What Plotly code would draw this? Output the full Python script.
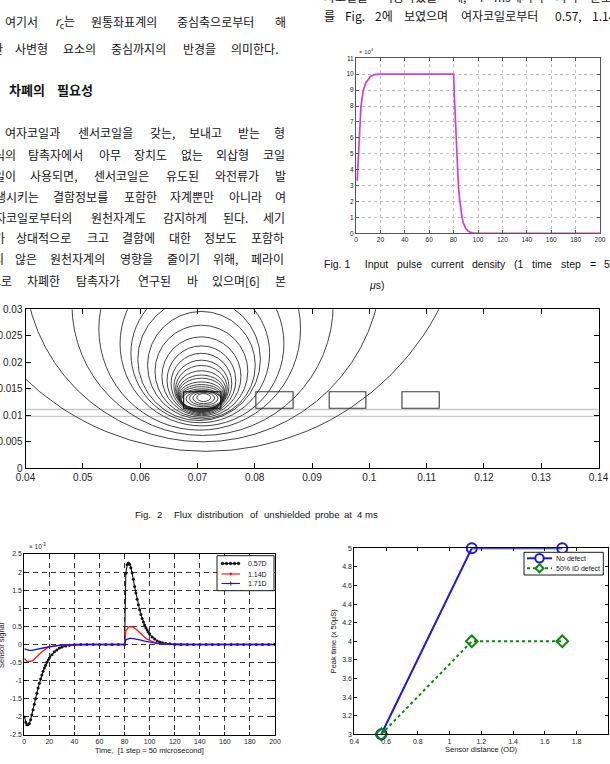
import plotly.graph_objects as go

W, H = 610, 764


def fx(x):
    return x / W


def fy(y):
    return 1 - y / H


# ---------------- Fig. 1 : input pulse current density (x 1e4) ----------------
pulse_t = [1, 2, 3, 4, 5, 6, 8, 10, 12, 15, 20, 40, 60, 80, 80.5, 81, 82, 83, 84, 85,
           86, 87, 88, 90, 92, 95, 100, 120, 140, 160, 180, 200]
pulse_j = [3.3, 5.0, 6.6, 7.9, 8.5, 9.0, 9.45, 9.7, 9.87, 9.97, 10, 10, 10, 10, 8.8, 8.0,
           6.0, 4.2, 2.9, 2.1, 1.4, 0.95, 0.65, 0.3, 0.12, 0.03, 0, 0, 0, 0, 0, 0]
f1_xticks = [0, 20, 40, 60, 80, 100, 120, 140, 160, 180, 200]
f1_yticks = [0, 1, 2, 3, 4, 5, 6, 7, 8, 9, 10, 11]

# ---------------- Fig. 2 : flux contour lines (extent of each line, outer ones run past the top) ----------------
ring_left = [0.0258, 0.0398, 0.0481, 0.0528, 0.0565, 0.0584, 0.0596,
             0.0613, 0.0626, 0.0638, 0.0647, 0.0654, 0.0659, 0.0662, 0.0664, 0.0666, 0.0667, 0.0668, 0.0669, 0.0670,
             0.0671, 0.0672,
             0.0680, 0.0686, 0.0692, 0.0699]
ring_right = [0.1172, 0.1022, 0.0937, 0.0880, 0.0851, 0.0826, 0.0810,
              0.0801, 0.0788, 0.0776, 0.0767, 0.0760, 0.0755, 0.0752, 0.0750, 0.0748, 0.0747, 0.0746, 0.0745, 0.0744,
              0.0743, 0.0742,
              0.0742, 0.0736, 0.0730, 0.0723]
ring_bottom = [0.0032, 0.0050, 0.0062, 0.0072, 0.0080, 0.0086, 0.0090,
               0.0093, 0.0096, 0.0099, 0.0101, 0.0103, 0.0105, 0.0106, 0.0107, 0.0108, 0.0109, 0.0110, 0.0111, 0.0111,
               0.0112, 0.0112,
               0.0116, 0.0119, 0.0122, 0.0126]
ring_top = [0.1020, 0.0724, 0.0556, 0.0454, 0.0390, 0.0348, 0.0321,
            0.0296, 0.0270, 0.0248, 0.0231, 0.0217, 0.0204, 0.0194, 0.0184, 0.0176, 0.0170, 0.0163, 0.0158, 0.0154,
            0.0150, 0.0147,
            0.0146, 0.0145, 0.0143, 0.0141]

# coil / sensor rectangles and pipe wall lines
coil_x0 = [0.0676, 0.0802, 0.0930, 0.1057]
coil_x1 = [0.0741, 0.0867, 0.0994, 0.1122]
coil_y0, coil_y1 = 0.01132, 0.01445
wall_y = [0.0111, 0.0098]
f2_xticks = [0.04, 0.05, 0.06, 0.07, 0.08, 0.09, 0.10, 0.11, 0.12, 0.13, 0.14]
f2_xtext = ["0.04", "0.05", "0.06", "0.07", "0.08", "0.09", "0.1", "0.11", "0.12", "0.13", "0.14"]
f2_yticks = [0, 0.005, 0.01, 0.015, 0.02, 0.025, 0.03]
f2_ytext = ["0", "0.005", "0.01", "0.015", "0.02", "0.025", "0.03"]

# ---------------- sensor signals (x 1e-3) ----------------
s057_t = [0, 1, 2, 3, 4, 5, 6, 7, 8, 9, 10, 11, 12, 13, 14, 15, 16, 17, 18, 19, 20,
          22, 24, 26, 28, 30, 33, 36, 40, 45, 50, 55, 60, 65, 70, 75, 80,
          81, 82, 83, 84, 85, 86, 87, 88, 89, 90, 91, 92, 93, 94, 95, 96, 97, 98, 99, 100,
          102, 104, 106, 108, 110, 113, 116, 120, 125, 130, 135, 140, 145, 150, 155, 160,
          165, 170, 175, 180, 185, 190, 195, 200]
s057_v = [-2.00, -2.15, -2.22, -2.22, -2.18, -2.08, -1.95, -1.80, -1.65, -1.50, -1.35, -1.20, -1.07, -0.95, -0.84,
          -0.74, -0.65, -0.57, -0.49, -0.43, -0.37,
          -0.28, -0.20, -0.15, -0.10, -0.07, -0.04, -0.02, -0.01, 0, 0, 0, 0, 0, 0, 0, 0,
          1.97, 2.20, 2.25, 2.22, 2.12, 1.98, 1.80, 1.60, 1.42, 1.25, 1.10, 0.96, 0.83, 0.72, 0.62, 0.54, 0.46, 0.40,
          0.34, 0.29,
          0.21, 0.15, 0.10, 0.07, 0.05, 0.03, 0.02, 0.01, 0, 0, 0, 0, 0, 0, 0, 0,
          0, 0, 0, 0, 0, 0, 0, 0]
s114_t = [0, 1, 2, 3, 4, 5, 6, 7, 8, 9, 10, 12, 14, 16, 18, 20, 24, 28, 34, 40, 50, 60, 70, 80,
          81, 82, 83, 84, 85, 86, 87, 88, 90, 92, 94, 96, 98, 100, 103, 106, 110, 115, 120, 140, 160, 180, 200]
s114_v = [-0.38, -0.44, -0.46, -0.47, -0.47, -0.47, -0.46, -0.44, -0.41, -0.38, -0.34, -0.27, -0.20, -0.14, -0.10,
          -0.07, -0.04, -0.02, -0.01, 0, 0, 0, 0, 0,
          0.38, 0.43, 0.47, 0.49, 0.50, 0.49, 0.47, 0.45, 0.40, 0.33, 0.26, 0.20, 0.15, 0.11, 0.07, 0.04, 0.02,
          0.01, 0, 0, 0, 0, 0]
s171_t = [0, 2, 4, 6, 8, 10, 13, 16, 20, 25, 30, 35, 40, 60, 80,
          81, 82, 84, 86, 88, 90, 93, 96, 100, 104, 108, 112, 120, 140, 160, 180, 200]
s171_v = [-0.12, -0.15, -0.16, -0.16, -0.15, -0.13, -0.11, -0.09, -0.06, -0.035, -0.02, -0.01, 0, 0, 0,
          0.13, 0.15, 0.17, 0.17, 0.16, 0.15, 0.12, 0.09, 0.06, 0.035, 0.02, 0.01, 0, 0, 0, 0, 0]
s_xticks = [0, 20, 40, 60, 80, 100, 120, 140, 160, 180, 200]
s_yticks = [-2.5, -2, -1.5, -1, -0.5, 0, 0.5, 1, 1.5, 2, 2.5]
s_ytext = ["-2.5", "-2", "-1.5", "-1", "-0.5", "0", "0.5", "1", "1.5", "2", "2.5"]
s_names = ["0.57D", "1.14D", "1.71D"]

# ---------------- peak time vs sensor distance ----------------
sensor_dist = [0.57, 1.14, 1.71]
peak_no_defect = [3, 5, 5]
peak_id_defect = [3, 4, 4]
p_xticks = [0.4, 0.6, 0.8, 1.0, 1.2, 1.4, 1.6, 1.8, 2.0]
p_xtext = ["0.4", "0.6", "0.8", "1", "1.2", "1.4", "1.6", "1.8", "2"]
p_yticks = [3, 3.2, 3.4, 3.6, 3.8, 4, 4.2, 4.4, 4.6, 4.8, 5]
p_ytext = ["3", "3.2", "3.4", "3.6", "3.8", "4", "4.2", "4.4", "4.6", "4.8", "5"]
p_names = ["No defect", "50% ID defect"]

SANS = "Liberation Sans, Arial, sans-serif"
KR = "Noto Sans CJK KR"

fig = go.Figure()

# Fig. 1 trace
fig.add_trace(go.Scatter(x=pulse_t, y=pulse_j, mode="lines", xaxis="x", yaxis="y",
                         line=dict(color="#d43cd4", width=1.7)))

# invisible anchor trace so subplot 2 exists
fig.add_trace(go.Scatter(x=[0.04, 0.14], y=[0, 0.03], mode="markers", xaxis="x2", yaxis="y2",
                         marker=dict(size=1, opacity=0), hoverinfo="skip"))

# sensor signals
fig.add_trace(go.Scatter(x=s057_t, y=s057_v, mode="lines+markers", xaxis="x3", yaxis="y3",
                         line=dict(color="#111111", width=1.1), marker=dict(size=3, color="#111111")))
fig.add_trace(go.Scatter(x=s114_t, y=s114_v, mode="lines", xaxis="x3", yaxis="y3",
                         line=dict(color="#ff1010", width=1.3)))
fig.add_trace(go.Scatter(x=s171_t, y=s171_v, mode="lines", xaxis="x3", yaxis="y3",
                         line=dict(color="#1010ff", width=1.3)))

# peak time
fig.add_trace(go.Scatter(x=sensor_dist, y=peak_no_defect, mode="lines+markers", xaxis="x4", yaxis="y4",
                         cliponaxis=False, line=dict(color="#1a1ae0", width=2),
                         marker=dict(symbol="circle-open", size=10, line=dict(width=2, color="#1a1ae0"))))
fig.add_trace(go.Scatter(x=sensor_dist, y=peak_id_defect, mode="lines+markers", xaxis="x4", yaxis="y4",
                         cliponaxis=False, line=dict(color="#0a8a0a", width=2, dash="dot"),
                         marker=dict(symbol="diamond-open", size=9, line=dict(width=2, color="#0a8a0a"))))


def axis(domain, rng, tv, tt, fs, tl, anchor, grid=None, color="black"):
    d = dict(domain=domain, range=rng, tickmode="array", tickvals=tv, ticktext=tt,
             ticks="inside", ticklen=tl, tickwidth=1, tickcolor=color, showline=True,
             linecolor=color, linewidth=1, mirror="ticks", zeroline=False, anchor=anchor,
             automargin=False,
             tickfont=dict(family=SANS, size=fs, color="#222"), showgrid=False, fixedrange=True)
    if grid:
        d.update(showgrid=True, gridcolor=grid[0], griddash=grid[1], gridwidth=grid[2])
    return d


d1x = [fx(356), fx(600)]
d1y = [fy(233.3), fy(58.3)]
d2x = [fx(25.5), fx(598.5)]
d2y = [fy(468.3), fy(309.3)]
d3x = [fx(24.3), fx(275)]
d3y = [fy(735), fy(554)]
d4x = [fx(354.3), fx(608.3)]
d4y = [fy(734.3), fy(548.3)]

layout = dict(
    width=W, height=H, margin=dict(l=0, r=0, t=0, b=0, autoexpand=False),
    paper_bgcolor="white", plot_bgcolor="white", showlegend=False,
    xaxis=axis(d1x, [0, 200], f1_xticks, [str(v) for v in f1_xticks], 6.5, 3, "y",
               grid=("#bdbdbd", "dot", 1), color="#555"),
    yaxis=axis(d1y, [0, 11], f1_yticks, [str(v) for v in f1_yticks], 6.5, 3, "x",
               grid=("#bdbdbd", "dot", 1), color="#555"),
    xaxis2=axis(d2x, [0.04, 0.14], f2_xticks, f2_xtext, 10, 5, "y2"),
    yaxis2=axis(d2y, [0, 0.03], f2_yticks, f2_ytext, 10, 5, "x2"),
    xaxis3=axis(d3x, [0, 200], s_xticks, [str(v) for v in s_xticks], 7, 3, "y3",
                grid=("#333333", "5px,4px", 0.7)),
    yaxis3=axis(d3y, [-2.5, 2.5], s_yticks, s_ytext, 7, 3, "x3",
                grid=("#333333", "5px,4px", 0.7)),
    xaxis4=axis(d4x, [0.4, 2.0], p_xticks, p_xtext, 7, 3, "y4"),
    yaxis4=axis(d4y, [3, 5], p_yticks, p_ytext, 7, 3, "x4"),
)

shapes = []
# wall lines
for wy in wall_y:
    shapes.append(dict(type="line", xref="x2", yref="y2", x0=0.04, x1=0.14, y0=wy, y1=wy,
                       line=dict(color="#c8c8c8", width=1.4), layer="below"))
# contour lines (clipped by the plot area)
for l, r, t, b in zip(ring_left, ring_right, ring_top, ring_bottom):
    shapes.append(dict(type="circle", xref="x2", yref="y2", x0=l, x1=r, y0=b, y1=t,
                       line=dict(color="#2e2e2e", width=0.9)))
# coil + sensors
for i, (a, b) in enumerate(zip(coil_x0, coil_x1)):
    shapes.append(dict(type="rect", xref="x2", yref="y2", x0=a, x1=b, y0=coil_y0, y1=coil_y1,
                       line=dict(color="#111" if i == 0 else "#3a3a3a", width=1.1)))


# legends (drawn manually in pixel space)
def prect(x0, y0, x1, y1, lw=1, color="black", fill="white"):
    return dict(type="rect", xref="paper", yref="paper", x0=fx(x0), x1=fx(x1), y0=fy(y1), y1=fy(y0),
                line=dict(color=color, width=lw), fillcolor=fill)


def pline(x0, y0, x1, y1, color, lw=1, dash="solid"):
    return dict(type="line", xref="paper", yref="paper", x0=fx(x0), x1=fx(x1), y0=fy(y0), y1=fy(y1),
                line=dict(color=color, width=lw, dash=dash))


def pcirc(cx, cy, r, color, fill=None, lw=1):
    return dict(type="circle", xref="paper", yref="paper", x0=fx(cx - r), x1=fx(cx + r),
                y0=fy(cy + r), y1=fy(cy - r), line=dict(color=color, width=lw),
                fillcolor=fill if fill else "rgba(0,0,0,0)")


shapes.append(prect(217, 555.7, 274, 590.7, lw=0.9))
leg3_y = [563.5, 574, 583.5]
leg3_c = ["#111111", "#ff1010", "#1010ff"]
for yy, cc in zip(leg3_y, leg3_c):
    shapes.append(pline(221.5, yy, 240, yy, cc, 1.1))
for xx in [222.5, 226.5, 230.5, 234.5, 238.5]:
    shapes.append(pcirc(xx, leg3_y[0], 1.2, "#111", "#111"))
shapes.append(pcirc(230.8, leg3_y[1], 1.0, "#ff1010", "#ff1010"))
shapes.append(pline(230.8, leg3_y[2] - 2, 230.8, leg3_y[2] + 2, "#1010ff", 1))

shapes.append(prect(524, 552.3, 603.3, 575, lw=0.9))
shapes.append(pline(527, 558.3, 552, 558.3, "#1a1ae0", 2))
shapes.append(pcirc(539.5, 558.3, 4.2, "#1a1ae0", "white", 2))
shapes.append(pline(527, 568.3, 552, 568.3, "#0a8a0a", 2, "dot"))
dx, dy = 539.5, 568.3
shapes.append(dict(type="path", xref="paper", yref="paper",
                   path="M {},{} L {},{} L {},{} L {},{} Z".format(fx(dx), fy(dy - 4), fx(dx + 4), fy(dy),
                                                                   fx(dx), fy(dy + 4), fx(dx - 4), fy(dy)),
                   line=dict(color="#0a8a0a", width=2), fillcolor="white"))
layout["shapes"] = shapes

ann = []


def add_text(x, y, text, size, family=KR, anchor="left", color="#141414", angle=0):
    ann.append(dict(x=fx(x), y=fy(y), xref="paper", yref="paper", text=text, showarrow=False,
                    xanchor=anchor, yanchor="middle", textangle=angle,
                    font=dict(family=family, size=size, color=color)))


def cwidth(ch, fs):
    if "\uac00" <= ch <= "\ud7a3":
        return fs
    arial = {" ": .278, "\u00a0": .278, "(": .333, ")": .333, ".": .278, ",": .278, "=": .584, "F": .611,
             "I": .278, "a": .556, "b": .556, "c": .5, "d": .556, "e": .556, "g": .556, "h": .556, "i": .222,
             "l": .222, "m": .833, "n": .556, "o": .556, "p": .556, "r": .333, "s": .5, "t": .278,
             "u": .556, "x": .5, "y": .5, "f": .278, "[": .3, "]": .3, "%": .89}
    if ch.isdigit():
        return .55 * fs
    return arial.get(ch, .55) * fs


def justify(y, left, right, words, fs, family=KR):
    ws = []
    for w in words:
        if isinstance(w, tuple):
            ws.append((w[0], w[1] * fs))
        else:
            ws.append((w, sum(cwidth(c, fs) for c in w)))
    total = sum(w for _, w in ws)
    gap = (right - left - total) / (len(ws) - 1) if len(ws) > 1 else 0
    x = left
    for t, w in ws:
        add_text(x, y, t, fs, family)
        x += w + gap


FS = 12
body_lines = [
    (21.5, 3.3, 285, ["여기서", ("<i>r</i><sub>c</sub>는", 1.75), "원통좌표계의", "중심축으로부터", "해"]),
    (48.5, -10.5, 280, ["한", "사변형", "요소의", "중심까지의", "반경을", "의미한다."]),
    (133, 3.3, 284, ["여자코일과", "센서코일을", "갖는,", "보내고", "받는", "형"]),
    (154.5, -8.5, 285, ["식의", "탐촉자에서", "아무", "장치도", "없는", "외삽형", "코일"]),
    (175.3, -8, 285, ["일이", "사용되면,", "센서코일은", "유도된", "와전류가", "발"]),
    (196, -7.5, 285, ["생시키는", "결함정보를", "포함한", "자계뿐만", "아니라", "여"]),
    (217, -7, 285, ["자코일로부터의", "원천자계도", "감지하게", "된다.", "세기"]),
    (237.5, -8.5, 285, ["가", "상대적으로", "크고", "결함에", "대한", "정보도", "포함하"]),
    (258, -9.5, 285, ["지", "않은", "원천자계의", "영향을", "줄이기", "위해,", "페라이"]),
    (280, -12, 285, ["트로", "차폐한", "탐촉자가", "연구된", "바", "있으며[6]", "본"]),
]
for y, l, r, words in body_lines:
    justify(y, l, r, words, FS)

# heading
add_text(7.3, 90, "<b>차폐의</b>", 13)
add_text(55, 90, "<b>필요성</b>", 13)

# right column text (top line mostly cut by the page edge)
justify(-4, 321.7, 612, ["자코일을", "이용하였을", "때,", "4", "ms에서의", "자속", "분포"], FS)
justify(15.5, 321.7, 616, ["를", "Fig.", "2에", "보였으며", "여자코일로부터", "0.57,", "1.14,"], FS)

# Fig. 1 caption
justify(264, 321.7, 614, ["Fig.\u00a01", "\u00a0\u00a0Input", "pulse", "current", "density", "(1", "time", "step",
                          "=", "50"], 10.5, SANS)
add_text(366.7, 285, "<i>μ</i>s)", 10.5, SANS)
add_text(357, 51, "× 10<sup>4</sup>", 6, SANS, color="#333")

# Fig. 2 caption
f2cap_words = ["Fig.", "2", "Flux", "distribution", "of", "unshielded", "probe", "at", "4", "ms"]
f2cap_x = [133.3, 155, 171.7, 195, 248.3, 261.7, 313.3, 341.7, 355, 363.3]
for xx, ww in zip(f2cap_x, f2cap_words):
    add_text(xx, 514, ww, 9.6, SANS)

# signal chart labels
add_text(27, 546, "× 10<sup>-3</sup>", 6.5, SANS, color="#222")
add_text(149.5, 750.7, "Time,  [1 step = 50 microsecond]", 7.5, SANS, anchor="center")
add_text(1, 645, "Sensor signal", 7.5, SANS, anchor="center", angle=-90)
for yy, nm in zip(leg3_y, s_names):
    add_text(246, yy, nm, 7, SANS)

# peak chart labels
add_text(481, 749, "Sensor distance (OD)", 7.5, SANS, anchor="center")
add_text(333.3, 641, "Peak time (x 50μS)", 7.5, SANS, anchor="center", angle=-90)
add_text(553.5, 558.3, p_names[0], 7, SANS)
add_text(553.5, 568.3, p_names[1], 7, SANS)

layout["annotations"] = ann
fig.update_layout(**layout)
fig.write_html("out.html")
